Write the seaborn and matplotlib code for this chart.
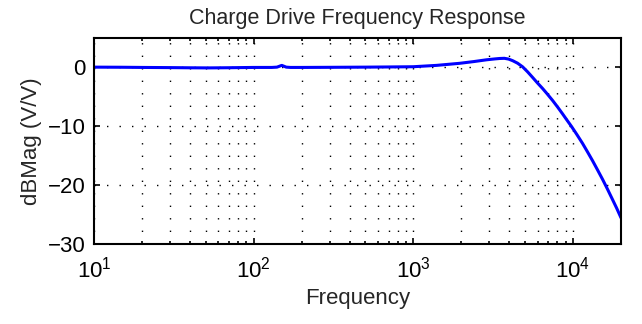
import numpy as np
import pandas as pd
import matplotlib
matplotlib.use("Agg")
import matplotlib.pyplot as plt
import seaborn as sns

# frequency response
freq = [10, 15, 20, 30, 40, 52, 70, 100, 130, 140, 145, 150, 155, 160, 170, 200,
        300, 500, 700, 1000, 1400, 1950, 2400, 2880, 3250, 3475, 3720, 3950,
        4190, 4500, 4840, 5200, 5590, 6000, 6450, 6900, 7450, 8000, 8600, 9200,
        9800, 10600, 11480, 12350, 13270, 14250, 15320, 16450, 17700, 18800, 20000]
dbmag = [0.05, 0.03, 0.0, -0.03, -0.06, -0.08, -0.05, 0.0, 0.0, 0.05, 0.2, 0.35, 0.2, 0.05, 0.0, 0.0,
         0.02, 0.05, 0.08, 0.12, 0.35, 0.7, 1.0, 1.3, 1.45, 1.52, 1.55, 1.42,
         1.15, 0.72, 0.1, -0.75, -1.7, -2.65, -3.57, -4.5, -5.6, -6.7, -7.87, -9.0,
         -10.04, -11.43, -12.9, -14.37, -15.85, -17.4, -19.0, -20.67, -22.45, -23.93, -25.55]

df = pd.DataFrame({"Frequency": freq, "dBMag": dbmag})

sns.set_style("ticks")
plt.rcParams['font.family'] = ['Liberation Sans', 'DejaVu Sans']

fig = plt.figure(figsize=(6.42, 3.24), dpi=100)
ax = fig.add_axes([0.1464, 0.2469, 0.8209, 0.6358])

sns.lineplot(data=df, x="Frequency", y="dBMag", ax=ax, color=(0, 0, 1), linewidth=2.2)
ax.set_xscale("log")
ax.set_xlim(10, 20000)
ax.set_ylim(-30, 5)
ax.set_yticks([-30, -20, -10, 0])

dots = (0, (1, 8))
ax.grid(True, which="major", axis="both", color="k", linestyle=dots, linewidth=1.0)
ax.grid(True, which="minor", axis="x", color="k", linestyle=dots, linewidth=1.0)

for s in ax.spines.values():
    s.set_linewidth(1.5)
    s.set_color("k")
ax.tick_params(which="both", direction="in", top=True, right=True, colors="k",
               labelsize=16, width=1.2)
ax.tick_params(which="major", length=4)
ax.tick_params(which="minor", length=2)
ax.tick_params(axis="x", which="major", pad=9)
ax.tick_params(axis="y", which="major", pad=6)

ax.set_xlabel("Frequency", fontsize=16, labelpad=4)
ax.set_ylabel("dBMag (V/V)", fontsize=16, labelpad=4)
ax.set_title("Charge Drive Frequency Response", fontsize=15.5, pad=10)

fig.savefig("out.png", dpi=100)
